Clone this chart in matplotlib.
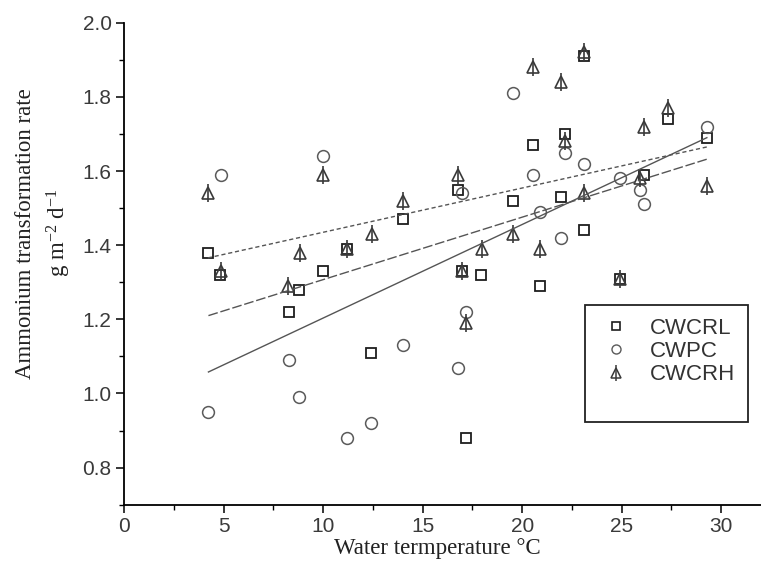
import numpy as np
import matplotlib
matplotlib.use("Agg")
import matplotlib.pyplot as plt
from matplotlib.lines import Line2D
from matplotlib.legend_handler import HandlerTuple
from matplotlib.ticker import MultipleLocator

plt.rcParams['font.family'] = ['Liberation Sans', 'DejaVu Sans']
plt.rcParams['mathtext.fontset'] = 'custom'
plt.rcParams['mathtext.rm'] = 'Liberation Serif'
plt.rcParams['mathtext.default'] = 'regular'

# water temperature (x) and ammonium transformation rate (y) per wetland
cwcrl_x = [4.24, 4.82, 8.29, 8.81, 9.98, 11.19, 12.4, 14.0, 16.8, 16.97, 17.92,
           17.19, 19.56, 20.57, 20.9, 21.94, 22.16, 23.13, 23.13, 24.92, 26.13,
           27.32, 29.28]
cwcrl_y = [1.38, 1.32, 1.22, 1.28, 1.33, 1.39, 1.11, 1.47, 1.55, 1.33, 1.32,
           0.88, 1.52, 1.67, 1.29, 1.53, 1.70, 1.91, 1.44, 1.31, 1.59,
           1.74, 1.69]

cwpc_x = [4.86, 4.24, 8.31, 8.81, 10.02, 11.19, 12.4, 14.0, 16.8, 16.97, 17.19,
          19.56, 20.57, 20.9, 21.94, 22.16, 23.13, 24.92, 25.93, 26.13, 29.28]
cwpc_y = [1.59, 0.95, 1.09, 0.99, 1.64, 0.88, 0.92, 1.13, 1.07, 1.54, 1.22,
          1.81, 1.59, 1.49, 1.42, 1.65, 1.62, 1.58, 1.55, 1.51, 1.72]

cwcrh_x = [4.21, 4.86, 8.26, 8.84, 10.02, 11.19, 12.45, 14.0, 16.8, 16.97, 17.19,
           17.97, 19.56, 20.57, 20.9, 21.94, 22.16, 23.13, 23.13, 24.92, 25.93,
           26.13, 27.32, 29.28]
cwcrh_y = [1.54, 1.33, 1.29, 1.38, 1.59, 1.39, 1.43, 1.52, 1.59, 1.33, 1.19,
           1.39, 1.43, 1.88, 1.39, 1.84, 1.68, 1.92, 1.54, 1.31, 1.58,
           1.72, 1.77, 1.56]

# linear fits: (intercept, slope)
fit_cwcrl = (1.1386, 0.01685)
fit_cwpc = (0.951, 0.02524)
fit_cwcrh = (1.3154, 0.01194)

xticks = [0, 5, 10, 15, 20, 25, 30]
yticks = [0.8, 1.0, 1.2, 1.4, 1.6, 1.8, 2.0]

fig = plt.figure(figsize=(7.61, 5.69), dpi=100)
ax = fig.add_axes([0.163, 0.113, 0.837, 0.847])

sq_style = dict(marker='s', ms=7.5, mfc='none', mec='#1e1e1e', mew=1.3, ls='none')
ci_style = dict(marker='o', ms=8.5, mfc='none', mec='#5a5a5a', mew=1.1, ls='none')
tr_style = dict(marker='^', ms=8, mfc='none', mec='#3a3a3a', mew=1.2, ls='none')
st_style = dict(marker='|', ms=13, mec='#3a3a3a', mew=1.2, ls='none')

ax.plot(cwcrl_x, cwcrl_y, **sq_style)
ax.plot(cwpc_x, cwpc_y, **ci_style)
ax.plot(cwcrh_x, cwcrh_y, **tr_style)
ax.plot(cwcrh_x, cwcrh_y, **st_style)

# regression lines
for xs, fit, ls in [(cwcrh_x, fit_cwcrh, (0, (3, 2))),
                    (cwcrl_x, fit_cwcrl, (0, (7, 2))),
                    (cwpc_x, fit_cwpc, '-')]:
    xx = np.array([min(xs), max(xs)])
    ax.plot(xx, fit[0] + fit[1] * xx, color='#555555', lw=1.0, ls=ls)

ax.set_xlim(0, 32)
ax.set_ylim(0.7, 2.0)
ax.set_xticks(xticks)
ax.set_yticks(yticks)
ax.set_yticklabels(['%.1f' % v for v in yticks])
ax.xaxis.set_minor_locator(MultipleLocator(2.5))
ax.yaxis.set_minor_locator(MultipleLocator(0.1))
ax.tick_params(which='major', direction='out', length=6, width=1.1,
               labelsize=15, labelcolor='#3a3a3a', pad=3)
ax.tick_params(which='minor', direction='out', length=3.5, width=1.0)
for side in ['top', 'right']:
    ax.spines[side].set_visible(False)
for side in ['left', 'bottom']:
    ax.spines[side].set_linewidth(1.3)

fig.text(0.575, 0.036, 'Water termperature \u00b0C', family='Liberation Serif',
         fontsize=16.5, ha='center', va='center', color='#222222')
fig.text(0.058, 0.59, 'Ammonium transformation rate\ng m$^{-2}$ d$^{-1}$',
         family='Liberation Serif', fontsize=16.5, rotation=90, ha='center',
         va='center', multialignment='center', linespacing=1.45, color='#222222')

h_sq = Line2D([], [], marker='s', ms=6, mfc='none', mec='#1e1e1e', mew=1.2, ls='none')
h_ci = Line2D([], [], marker='o', ms=6.5, mfc='none', mec='#5a5a5a', mew=1.0, ls='none')
h_tr = (Line2D([], [], marker='^', ms=7, mfc='none', mec='#3a3a3a', mew=1.1, ls='none'),
        Line2D([], [], marker='|', ms=11, mec='#3a3a3a', mew=1.1, ls='none'))
h_blank = Line2D([], [], ls='none')
leg = ax.legend([h_sq, h_ci, h_tr, h_blank], ['CWCRL', 'CWPC', 'CWCRH', ' '],
                handler_map={tuple: HandlerTuple(ndivide=1)},
                loc='upper left', bbox_to_anchor=(0.724, 0.415),
                frameon=True, fancybox=False, framealpha=1, fontsize=16,
                handlelength=1.6, handletextpad=0.7, borderpad=0.6,
                labelspacing=0.1, borderaxespad=0)
leg.get_frame().set_edgecolor('#222222')
leg.get_frame().set_linewidth(1.3)
for t in leg.get_texts():
    t.set_color('#333333')

fig.savefig('out.png', dpi=100)
